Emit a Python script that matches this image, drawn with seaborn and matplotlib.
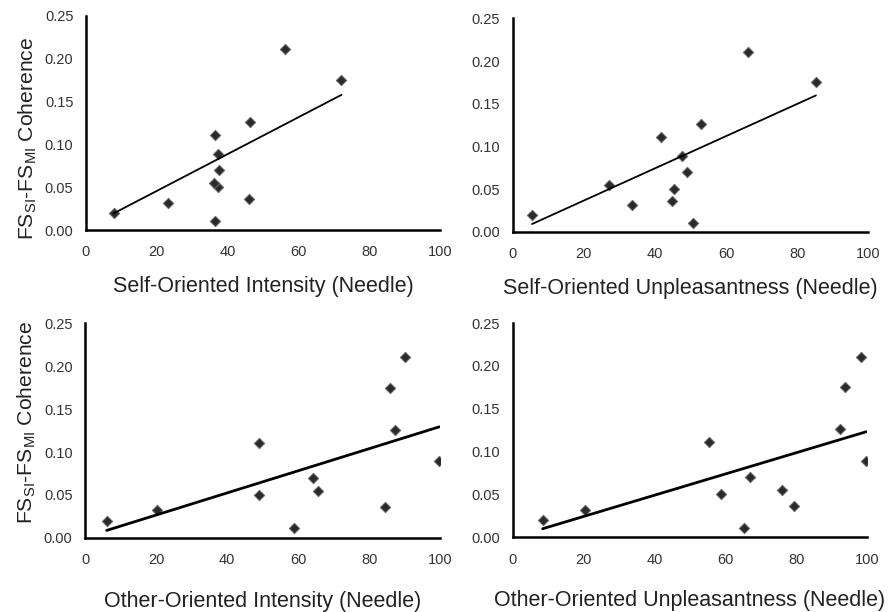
import numpy as np
import pandas as pd
import matplotlib
matplotlib.use("Agg")
import matplotlib.pyplot as plt
import seaborn as sns
from matplotlib.ticker import FormatStrFormatter

# coherence values (same 12 subjects in every panel)
coherence = [0.011, 0.020, 0.032, 0.036, 0.050, 0.055, 0.070, 0.089, 0.111, 0.126, 0.175, 0.211]

# ratings per panel, in the same subject order
self_intensity = [36.5, 7.8, 23.3, 46.0, 37.2, 36.2, 37.6, 37.4, 36.5, 46.2, 72.1, 56.3]
self_unpleasant = [50.8, 5.4, 33.4, 44.9, 45.4, 27.1, 48.9, 47.5, 41.6, 52.9, 85.3, 66.1]
other_intensity = [58.7, 6.1, 20.2, 84.5, 49.1, 65.7, 64.3, 99.7, 49.1, 87.3, 85.7, 90.1]
other_unpleasant = [65.3, 8.4, 20.4, 79.3, 58.6, 76.0, 66.8, 99.7, 55.3, 92.2, 93.7, 98.1]

# trend lines as printed in the figure (slope, intercept)
trend_slope = [0.002152, 0.001884, 0.001288, 0.001240]
trend_intercept = [0.0027, -0.0009, 0.0009, -0.0004]

xlabels = ["Self-Oriented Intensity (Needle)", "Self-Oriented Unpleasantness (Needle)",
           "Other-Oriented Intensity (Needle)", "Other-Oriented Unpleasantness (Needle)"]
ylabel = r"FS$_\mathregular{SI}$-FS$_\mathregular{MI}$ Coherence"

sns.set_style("white")
plt.rcParams["font.family"] = ["Liberation Sans", "DejaVu Sans"]
plt.rcParams["mathtext.fontset"] = "custom"
plt.rcParams["mathtext.rm"] = "Liberation Sans"

fig = plt.figure(figsize=(8.95, 6.12), dpi=100)
boxes = [[0.096, 0.624, 0.396, 0.350],
         [0.573, 0.621, 0.397, 0.349],
         [0.095, 0.121, 0.397, 0.351],
         [0.573, 0.122, 0.396, 0.350]]
xs = [self_intensity, self_unpleasant, other_intensity, other_unpleasant]
line_w = [1.3, 1.3, 2.0, 2.0]
xpad = [12, 12, 17, 17]
ylab_pos = {0: (-0.133, 0.43), 2: (-0.133, 0.54)}

for i in range(4):
    ax = fig.add_axes(boxes[i])
    df = pd.DataFrame({"x": xs[i], "y": coherence})
    sns.scatterplot(data=df, x="x", y="y", ax=ax, marker="D", s=28,
                    color="#2a2a2a", edgecolor="#6a6a6a", linewidth=0.7)
    # trend line over the data range
    xr = np.array([min(xs[i]), max(xs[i])])
    tl = pd.DataFrame({"x": xr, "y": trend_slope[i] * xr + trend_intercept[i]})
    sns.lineplot(data=tl, x="x", y="y", ax=ax, color="black", lw=line_w[i])
    ax.set_xlim(0, 100)
    ax.set_ylim(0, 0.25)
    ax.set_xticks([0, 20, 40, 60, 80, 100])
    ax.set_yticks([0, 0.05, 0.10, 0.15, 0.20, 0.25])
    ax.yaxis.set_major_formatter(FormatStrFormatter("%.2f"))
    ax.tick_params(length=0, labelsize=10.5, colors="#333333")
    ax.tick_params(axis="x", pad=11)
    ax.tick_params(axis="y", pad=9)
    for s in ["top", "right"]:
        ax.spines[s].set_visible(False)
    for s in ["left", "bottom"]:
        ax.spines[s].set_linewidth(1.8)
        ax.spines[s].set_color("black")
    ax.set_xlabel(xlabels[i], fontsize=15.5, color="#222222", labelpad=xpad[i])
    if i % 2 == 0:
        ax.set_ylabel(ylabel, fontsize=15.2, color="#222222")
        ax.yaxis.set_label_coords(*ylab_pos[i])
    else:
        ax.set_ylabel("")

plt.savefig("out.png", dpi=100)
